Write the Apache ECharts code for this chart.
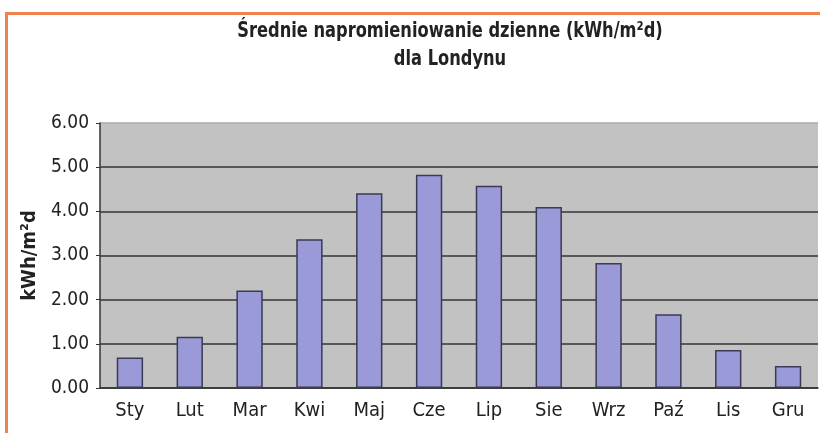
<!DOCTYPE html>
<html>
<head>
<meta charset="utf-8">
<script src="https://cdn.jsdelivr.net/npm/echarts@6/dist/echarts.min.js"></script>
<style>
  html, body { margin: 0; padding: 0; background: #fff; }
  #main { width: 820px; height: 433px; }
</style>
</head>
<body>
<div id="main"></div>
<script>
var months = ['Sty', 'Lut', 'Mar', 'Kwi', 'Maj', 'Cze', 'Lip', 'Sie', 'Wrz', 'Paź', 'Lis', 'Gru'];
var irradiation = [0.69, 1.16, 2.21, 3.37, 4.41, 4.83, 4.58, 4.10, 2.83, 1.67, 0.86, 0.50];
var titleText = 'Średnie napromieniowanie dzienne (kWh/m²d)\ndla Londynu';

var fontFam = '"DejaVu Sans Condensed", "Liberation Sans Narrow", "Roboto", sans-serif';

var myChart = echarts.init(document.getElementById('main'));

var option = {
  animation: false,
  textStyle: { fontFamily: fontFam },
  graphic: [{
    type: 'rect',
    shape: { x: 6.5, y: 13.5, width: 830, height: 440 },
    style: { fill: 'none', stroke: '#f0824e', lineWidth: 3 },
    z: 100
  }, {
    // title drawn as graphic text so it can be squeezed like the condensed original
    type: 'text',
    x: 450,
    y: 18,
    scaleX: 0.86,
    style: {
      x: 0,
      y: 0,
      text: titleText,
      textAlign: 'center',
      fontFamily: fontFam,
      fontSize: 21,
      fontWeight: 'bold',
      lineHeight: 28,
      fill: '#222'
    }
  }],
  grid: {
    left: 100,
    right: 2,
    top: 123,
    bottom: 45,
    show: true,
    backgroundColor: '#c2c2c2',
    borderWidth: 0
  },
  xAxis: {
    type: 'category',
    data: months,
    axisLine: { lineStyle: { color: '#333', width: 1.5 } },
    axisTick: { length: 8, lineStyle: { color: '#555', width: 1.5 } },
    axisLabel: { fontSize: 20, color: '#222', margin: 13 }
  },
  yAxis: {
    type: 'value',
    min: 0,
    max: 6,
    interval: 1,
    name: 'kWh/m²d',
    nameLocation: 'middle',
    nameGap: 51,
    nameTextStyle: { fontSize: 20, fontWeight: 'bold', color: '#222' },
    axisLine: { show: true, lineStyle: { color: '#333', width: 1.5 } },
    axisTick: { show: true, length: 4, lineStyle: { color: '#333' } },
    axisLabel: {
      fontSize: 19,
      color: '#222',
      margin: 11,
      formatter: function (v) { return v.toFixed(2); }
    },
    splitLine: {
      lineStyle: {
        color: ['#333', '#333', '#333', '#333', '#333', '#333', '#aaa'],
        width: 1.5
      }
    }
  },
  series: [{
    name: 'kWh/m²d',
    type: 'bar',
    data: irradiation,
    barWidth: '44%',
    itemStyle: {
      color: '#9a9ad8',
      borderColor: '#3a3a55',
      borderWidth: 1.5
    }
  }]
};

myChart.setOption(option);
</script>
</body>
</html>
